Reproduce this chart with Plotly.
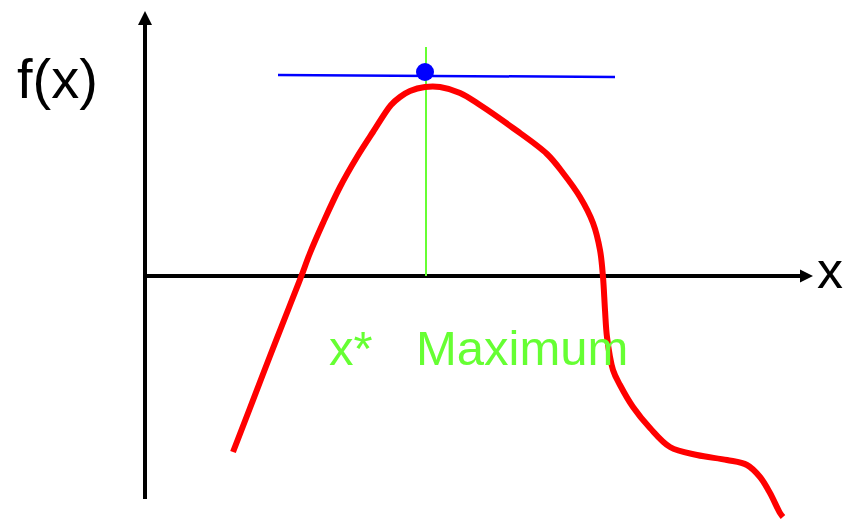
import plotly.graph_objects as go

# ---- data (math units; origin at the axes crossing) ----
curve_x = [0.88, 1.05, 1.25, 1.45, 1.56, 1.65, 1.78, 1.95, 2.12, 2.28, 2.46, 2.55, 2.65, 2.80,
           2.95, 3.15, 3.35, 3.68, 4.02, 4.18, 4.35, 4.48, 4.55, 4.58, 4.60, 4.62, 4.68,
           4.75, 4.88, 5.05, 5.25, 5.52, 5.82, 6.02, 6.15, 6.25, 6.35, 6.38]
curve_y = [-1.76, -1.32, -0.80, -0.29, -0.01, 0.23, 0.53, 0.89, 1.19, 1.44, 1.71, 1.79, 1.85, 1.89,
           1.89, 1.83, 1.71, 1.48, 1.22, 1.03, 0.79, 0.53, 0.26, -0.01, -0.34, -0.61, -0.94,
           -1.09, -1.31, -1.52, -1.71, -1.79, -1.84, -1.89, -2.01, -2.17, -2.37, -2.41]

tangent_x = [1.33, 4.70]
tangent_y = [2.01, 1.99]

max_point_x = [2.80]
max_point_y = [2.04]

xstar_line_x = [2.81, 2.81]
xstar_line_y = [0.0, 2.29]

y_axis_extent = [-2.23, 2.51]
y_axis_tip = 2.65
x_axis_extent = [-0.02, 6.56]
x_axis_tip = 6.68

labels = {"fx": "f(x)", "x": "x", "xstar": "x*", "max": "Maximum"}

GREEN = "#66ff33"
FONT = "Liberation Sans, Arial, Helvetica, sans-serif"

fig = go.Figure()

# axes
fig.add_trace(go.Scatter(x=[0, 0], y=y_axis_extent, mode="lines",
                         line=dict(color="black", width=4), hoverinfo="skip"))
fig.add_trace(go.Scatter(x=x_axis_extent, y=[0, 0], mode="lines",
                         line=dict(color="black", width=4), hoverinfo="skip"))
fig.add_trace(go.Scatter(x=[0], y=[y_axis_tip], mode="markers",
                         marker=dict(symbol="arrow-up", size=14, color="black",
                                     line=dict(width=0)), hoverinfo="skip"))
fig.add_trace(go.Scatter(x=[x_axis_tip], y=[0], mode="markers",
                         marker=dict(symbol="arrow-right", size=13, color="black",
                                     line=dict(width=0)), hoverinfo="skip"))

# green vertical line at x*
fig.add_trace(go.Scatter(x=xstar_line_x, y=xstar_line_y, mode="lines",
                         line=dict(color=GREEN, width=2), hoverinfo="skip"))

# red function curve
fig.add_trace(go.Scatter(x=curve_x, y=curve_y, mode="lines",
                         line=dict(color="#ff0000", width=6, shape="spline", smoothing=1.0),
                         hoverinfo="skip"))

# blue tangent line and point
fig.add_trace(go.Scatter(x=tangent_x, y=tangent_y, mode="lines",
                         line=dict(color="#0000ff", width=2.5), hoverinfo="skip"))
fig.add_trace(go.Scatter(x=max_point_x, y=max_point_y, mode="markers",
                         marker=dict(color="#0000ff", size=18, line=dict(width=0)),
                         hoverinfo="skip"))

annos = [
    dict(x=-0.88, y=1.98, text=labels["fx"], font=dict(size=56, color="black", family=FONT)),
    dict(x=6.85, y=0.06, text=labels["x"], font=dict(size=52, color="black", family=FONT)),
    dict(x=2.06, y=-0.72, text=labels["xstar"], font=dict(size=49, color=GREEN, family=FONT)),
    dict(x=3.77, y=-0.72, text=labels["max"], font=dict(size=49, color=GREEN, family=FONT)),
]
for a in annos:
    fig.add_annotation(showarrow=False, xanchor="center", yanchor="middle", **a)

fig.update_traces(cliponaxis=False)
fig.update_layout(
    width=845, height=520,
    margin=dict(l=0, r=0, t=0, b=0),
    paper_bgcolor="white", plot_bgcolor="white",
    showlegend=False,
    xaxis=dict(range=[-1.45, 7.00], visible=False, fixedrange=True),
    yaxis=dict(range=[-2.44, 2.76], visible=False, fixedrange=True),
)

fig.write_html("out.html", config={"displayModeBar": False},
               post_script="document.body.style.margin='0';document.body.style.overflow='hidden';")
